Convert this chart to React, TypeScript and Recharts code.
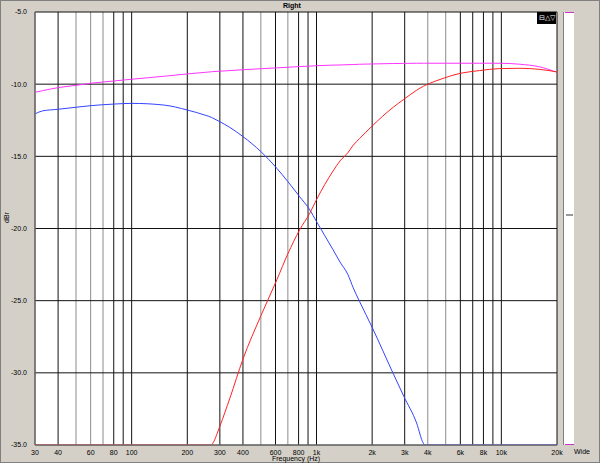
import { LineChart, Line, XAxis, YAxis, ReferenceLine } from "recharts";

const freqs = [
  30, 33, 40, 50, 60, 80, 100, 150, 200, 250, 270, 275, 300, 340, 400, 500, 610, 700, 810, 920,
  1000, 1230, 1340, 1480, 1580, 1710, 2000, 2600, 2970, 3480, 3780, 3850, 4000, 4600, 6000, 7600,
  9800, 12600, 16000, 20000,
];
const wide = [
  -10.56, -10.45, -10.24, -10.08, -9.94, -9.78, -9.66, -9.45, -9.29, -9.18, -9.14, -9.13, -9.1,
  -9.06, -9.0, -8.93, -8.87, -8.83, -8.78, -8.75, -8.72, -8.68, -8.67, -8.65, -8.64, -8.62, -8.6,
  -8.57, -8.56, -8.55, -8.55, -8.55, -8.55, -8.55, -8.55, -8.55, -8.55, -8.62, -8.79, -9.18,
];
const low = [
  -12.06, -11.85, -11.74, -11.6, -11.49, -11.38, -11.33, -11.45, -11.79, -12.15, -12.3, -12.35,
  -12.6, -13.0, -13.63, -14.67, -15.83, -16.75, -17.79, -18.71, -19.52, -21.48, -22.32, -23.2,
  -24.11, -25.06, -26.85, -30.05, -31.64, -33.48, -34.87, -35, -35, -35, -35, -35, -35, -35, -35,
  -35,
];
const high = [
  -35, -35, -35, -35, -35, -35, -35, -35, -35, -35, -35, -34.87, -33.7, -31.75, -29.05, -26.05,
  -23.56, -21.75, -20.1, -18.94, -18.0, -16.01, -15.32, -14.74, -14.23, -13.77, -12.9, -11.6,
  -11.05, -10.42, -10.15, -10.1, -10.0, -9.7, -9.25, -9.06, -8.92, -8.9, -8.97, -9.15,
];

const gridFreqs = [
  30, 40, 50, 60, 70, 80, 90, 100, 200, 300, 400, 500, 600, 700, 800, 900, 1000, 2000, 3000,
  4000, 5000, 6000, 7000, 8000, 9000, 10000, 20000,
];
const grayFreqs = [50, 60, 70, 500, 700, 4000, 5000];
const hiddenLabels = [50, 70, 90, 500, 700, 900, 5000, 7000, 9000];
const dbTicks = [-35, -30, -25, -20, -15, -10, -5];

const data = freqs.map((f, i) => ({ f, wide: wide[i], low: low[i], high: high[i] }));

const font = "'Liberation Sans', Arial, sans-serif";

const freqLabel = (v: number) => {
  if (hiddenLabels.includes(v)) return "";
  return v >= 1000 ? `${v / 1000}k` : `${v}`;
};

const RightTick = (props: any) => {
  const { x, y, payload } = props;
  return (
    <g>
      <line x1={x + 22} x2={x + 24} y1={y} y2={y} stroke="#000" />
      <text x={x + 26} y={y} dy={2.5} fontSize={7} fontFamily={font} fill="#000">
        {payload.value.toFixed(1)}
      </text>
    </g>
  );
};

export default function App() {
  return (
    <div
      style={{
        position: "absolute",
        left: 0,
        top: 0,
        width: 600,
        height: 463,
        background: "#D4D0C8",
        boxShadow: "inset 0 0 0 1px #808080",
        fontFamily: font,
      }}
    >
      <LineChart
        width={600}
        height={463}
        data={data}
        margin={{ top: 12, right: 0, bottom: 0, left: 0 }}
        style={{ position: "absolute", left: 0, top: 0 }}
      >
        <rect x={35} y={12} width={522} height={433} fill="#fff" />
        <XAxis
          dataKey="f"
          type="number"
          scale="log"
          domain={[30, 20000]}
          allowDataOverflow
          ticks={gridFreqs}
          tickFormatter={freqLabel}
          interval={0}
          height={18}
          tickLine={false}
          axisLine={{ stroke: "#808080" }}
          tick={{ fontSize: 7, fill: "#000", fontFamily: font, dy: -3 }}
          label={{ value: "Frequency (Hz)", position: "insideBottom", offset: 2, fontSize: 7, fill: "#000", fontFamily: font }}
        />
        <YAxis
          yAxisId="left"
          domain={[-35, -5]}
          ticks={dbTicks}
          allowDataOverflow
          width={35}
          tickLine={false}
          axisLine={{ stroke: "#808080" }}
          tickFormatter={(v: number) => v.toFixed(1)}
          tick={{ fontSize: 7, fill: "#000", fontFamily: font }}
        />
        <YAxis
          yAxisId="right"
          orientation="right"
          domain={[-35, -5]}
          ticks={dbTicks}
          width={43}
          tickLine={false}
          axisLine={false}
          tick={<RightTick />}
        />
        {gridFreqs.map((f) => (
          <ReferenceLine
            key={f}
            x={f}
            yAxisId="left"
            stroke={grayFreqs.includes(f) ? "#8c8c8c" : "#111"}
            strokeWidth={1}
          />
        ))}
        {dbTicks.map((v) => (
          <ReferenceLine key={v} y={v} yAxisId="left" stroke="#111" strokeWidth={1} />
        ))}
        <Line yAxisId="left" dataKey="wide" stroke="#FF33FF" strokeWidth={1} dot={false} isAnimationActive={false} type="monotone" />
        <Line yAxisId="left" dataKey="low" stroke="#3344FF" strokeWidth={1} dot={false} isAnimationActive={false} type="monotone" />
        <Line yAxisId="left" dataKey="high" stroke="#FF2222" strokeWidth={1} dot={false} isAnimationActive={false} type="monotone" />
      </LineChart>

      <div style={{ position: "absolute", left: 283, top: 2, fontSize: 7, fontWeight: "bold", color: "#000" }}>Right</div>
      <div
        style={{
          position: "absolute",
          left: 1,
          top: 214,
          fontSize: 7,
          color: "#000",
          transform: "rotate(-90deg)",
        }}
      >
        dBr
      </div>
      <div
        style={{
          position: "absolute",
          left: 537,
          top: 12,
          width: 19,
          height: 12,
          background: "#000",
          color: "#fff",
          fontSize: 7,
          lineHeight: "12px",
          textAlign: "center",
        }}
      >
        ⊟△▽
      </div>
      <div
        style={{
          position: "absolute",
          left: 563,
          top: 12,
          width: 11,
          height: 433,
          background: "#fff",
          borderLeft: "1px solid #808080",
          boxSizing: "border-box",
        }}
      >
        <div style={{ position: "absolute", left: 1, top: 0, width: 9, height: 1, background: "#CC33CC" }} />
        <div style={{ position: "absolute", left: 2, top: 202, width: 7, height: 2, background: "#999" }} />
        <div style={{ position: "absolute", left: 1, top: 432, width: 9, height: 1, background: "#CC33CC" }} />
      </div>
      <div style={{ position: "absolute", left: 574, top: 448, fontSize: 7, color: "#000" }}>Wide</div>
    </div>
  );
}
